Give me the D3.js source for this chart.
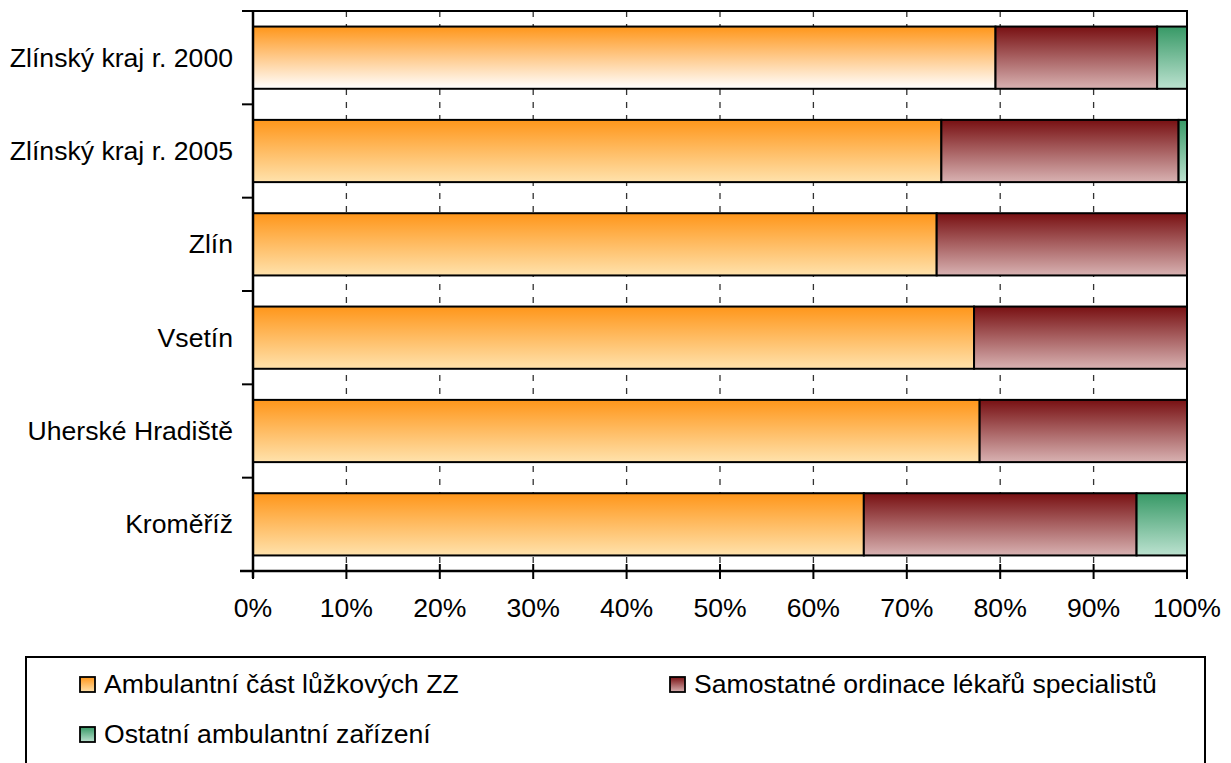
<!DOCTYPE html>
<html lang="cs">
<head>
<meta charset="UTF-8">
<title>Ambulantní péče</title>
<script src="https://d3js.org/d3.v7.min.js"></script>
<style>
    body { margin: 0; padding: 0; background: #fff; }
    svg { display: block; }
    text { font-family: 'Liberation Sans', Arial, sans-serif; font-size: 26.6px; fill: #000; }
</style>
</head>
<body>
<svg id="chart" width="1231" height="763"></svg>
<script>
    // data (percent of each row)
    var categories = ["Zlínský kraj r. 2000", "Zlínský kraj r. 2005", "Zlín", "Vsetín", "Uherské Hradiště", "Kroměříž"];
    var ambulantni = [79.5, 73.7, 73.2, 77.2, 77.8, 65.4];
    var samostatne = [17.3, 25.4, 26.8, 22.8, 22.2, 29.2];
    var ostatni = [3.2, 0.9, 0, 0, 0, 5.4];
    var seriesNames = ["Ambulantní část lůžkových ZZ", "Samostatné ordinace lékařů specialistů", "Ostatní ambulantní zařízení"];
    var xTicks = [0, 10, 20, 30, 40, 50, 60, 70, 80, 90, 100];

    var svg = d3.select("#chart");
    // plot area edges ("top" is taken by window.top, so use other names)
    var plotL = 253, plotR = 1187, plotT = 11, plotB = 571;

    // gradients: top colour -> bottom colour
    var grads = [
        { id: "gA", c1: "#ff961a", c2: "#ffe2ac" },
        { id: "gA0", c1: "#ff961a", c2: "#ffffff" },
        { id: "gB", c1: "#781012", c2: "#d8b2b2" },
        { id: "gC", c1: "#379966", c2: "#bce2d0" }
    ];
    var defs = svg.append("defs");
    grads.forEach(function(g) {
        var lg = defs.append("linearGradient").attr("id", g.id)
            .attr("x1", 0).attr("y1", 0).attr("x2", 0).attr("y2", 1);
        lg.append("stop").attr("offset", "0%").attr("stop-color", g.c1);
        lg.append("stop").attr("offset", "100%").attr("stop-color", g.c2);
    });
    var seriesGrad = ["gA", "gB", "gC"];

    var x = d3.scaleLinear().domain([0, 100]).range([plotL, plotR]);
    var y = d3.scaleBand().domain(categories).range([plotT, plotB])
        .paddingInner(1 / 3).paddingOuter(1 / 6);

    // dashed gridlines
    svg.append("g").selectAll("line")
        .data(xTicks.slice(1, -1))
        .enter().append("line")
        .attr("x1", function(d) { return x(d); })
        .attr("x2", function(d) { return x(d); })
        .attr("y1", plotT).attr("y2", plotB)
        .attr("stroke", "#333").attr("stroke-width", 1.3)
        .attr("stroke-dasharray", "6,7");

    // plot border top + right
    svg.append("path")
        .attr("d", "M" + plotL + "," + plotT + "H" + plotR + "V" + plotB)
        .attr("fill", "none").attr("stroke", "#000").attr("stroke-width", 2);

    // stacked bars
    var rows = categories.map(function(c, i) {
        return { cat: c, i: i, vals: [ambulantni[i], samostatne[i], ostatni[i]] };
    });
    var rowG = svg.append("g").selectAll("g")
        .data(rows).enter().append("g");

    rowG.each(function(r) {
        var acc = 0;
        var g = d3.select(this);
        r.vals.forEach(function(v, s) {
            if (v > 0) {
                var gid = (s === 0 && r.i === 0) ? "gA0" : seriesGrad[s];
                g.append("rect")
                    .attr("x", x(acc))
                    .attr("y", y(r.cat))
                    .attr("width", x(acc + v) - x(acc))
                    .attr("height", y.bandwidth())
                    .attr("fill", "url(#" + gid + ")")
                    .attr("stroke", "#000").attr("stroke-width", 2);
            }
            acc += v;
        });
    });

    // x axis
    var xAxis = svg.append("g").attr("transform", "translate(0," + plotB + ")");
    xAxis.append("line").attr("x1", plotL - 13).attr("x2", plotR)
        .attr("stroke", "#000").attr("stroke-width", 2.5);
    xAxis.selectAll(".xt").data(xTicks).enter().append("line")
        .attr("x1", function(d) { return x(d); })
        .attr("x2", function(d) { return x(d); })
        .attr("y1", -7).attr("y2", 8)
        .attr("stroke", "#000").attr("stroke-width", 2);
    xAxis.selectAll("text").data(xTicks).enter().append("text")
        .attr("x", function(d) { return x(d); })
        .attr("y", 46)
        .attr("text-anchor", "middle")
        .text(function(d) { return d + "%"; });

    // y axis
    var yAxis = svg.append("g");
    yAxis.append("line").attr("x1", plotL).attr("x2", plotL)
        .attr("y1", plotT).attr("y2", plotB + 7)
        .attr("stroke", "#000").attr("stroke-width", 2.5);
    var bounds = d3.range(categories.length + 1).map(function(i) { return plotT + i * y.step(); });
    yAxis.selectAll(".yt").data(bounds).enter().append("line")
        .attr("x1", plotL - 11).attr("x2", plotL)
        .attr("y1", function(d) { return d; })
        .attr("y2", function(d) { return d; })
        .attr("stroke", "#000").attr("stroke-width", 2);
    yAxis.selectAll("text").data(categories).enter().append("text")
        .attr("x", 233)
        .attr("y", function(d) { return y(d) + y.bandwidth() / 2 + 9; })
        .attr("text-anchor", "end")
        .text(function(d) { return d; });

    // legend
    var legend = svg.append("g");
    legend.append("rect")
        .attr("x", 26).attr("y", 657).attr("width", 1179).attr("height", 140)
        .attr("fill", "#fff").attr("stroke", "#000").attr("stroke-width", 2);
    var legPos = [[80, 677], [670, 677], [80, 727]];
    seriesNames.forEach(function(name, s) {
        var p = legPos[s];
        legend.append("rect")
            .attr("x", p[0]).attr("y", p[1]).attr("width", 15).attr("height", 15)
            .attr("fill", "url(#" + seriesGrad[s] + ")")
            .attr("stroke", "#000").attr("stroke-width", 1.8);
        legend.append("text")
            .attr("x", p[0] + 24).attr("y", p[1] + 16)
            .text(name);
    });
</script>
</body>
</html>
